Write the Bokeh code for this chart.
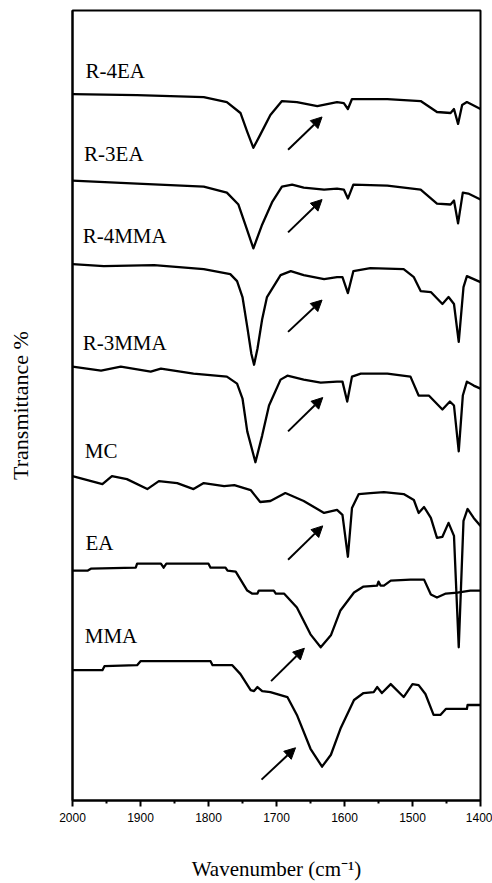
from bokeh.plotting import figure
from bokeh.models import Range1d, FixedTicker, Arrow, NormalHead, ColumnDataSource
from bokeh.core.properties import value
from bokeh.embed import file_html
from bokeh.resources import INLINE

# ---- data (wavenumber cm^-1, stacked transmittance in arbitrary units) ----
r4ea_wn = [2000, 1905, 1807, 1773, 1753, 1743, 1734, 1724, 1709, 1692, 1670, 1640, 1611, 1601, 1595, 1589, 1537, 1488, 1464, 1444, 1439, 1433, 1427, 1420, 1400]
r4ea_t = [710, 709, 707, 702, 691, 672, 656, 669, 689, 703, 702, 698, 702, 701, 695, 705, 705, 703, 692, 691, 695, 680, 699, 702, 695]

r3ea_wn = [2000, 1905, 1807, 1773, 1756, 1746, 1734, 1721, 1706, 1692, 1677, 1660, 1630, 1611, 1601, 1595, 1587, 1537, 1488, 1464, 1444, 1439, 1433, 1426, 1418, 1400]
r3ea_t = [623, 620, 617, 611, 599, 579, 555, 579, 602, 617, 619, 616, 614, 615, 614, 605, 619, 618, 614, 600, 599, 603, 580, 611, 610, 604]

r4mma_wn = [2000, 1954, 1880, 1807, 1768, 1758, 1750, 1743, 1737, 1733, 1728, 1721, 1714, 1694, 1679, 1660, 1630, 1611, 1603, 1595, 1587, 1562, 1513, 1498, 1488, 1473, 1456, 1447, 1439, 1432, 1425, 1420, 1410, 1400]
r4mma_t = [539, 537, 538, 534, 529, 522, 506, 476, 449, 438, 454, 484, 506, 528, 532, 528, 524, 526, 526, 510, 532, 535, 534, 526, 512, 511, 499, 506, 499, 461, 516, 527, 524, 521]

r3mma_wn = [2000, 1958, 1929, 1885, 1870, 1822, 1773, 1758, 1750, 1743, 1731, 1721, 1711, 1694, 1684, 1660, 1635, 1611, 1603, 1596, 1589, 1576, 1537, 1503, 1491, 1476, 1456, 1445, 1439, 1432, 1426, 1420, 1410, 1400]
r3mma_t = [436, 432, 436, 431, 434, 429, 426, 419, 404, 371, 340, 367, 397, 423, 427, 423, 420, 421, 421, 401, 426, 429, 429, 426, 407, 407, 393, 401, 397, 351, 407, 421, 417, 414]

mc_wn = [2000, 1978, 1956, 1942, 1920, 1890, 1873, 1846, 1822, 1807, 1777, 1762, 1738, 1724, 1709, 1687, 1660, 1630, 1611, 1603, 1595, 1589, 1579, 1562, 1542, 1513, 1498, 1491, 1483, 1473, 1464, 1456, 1447, 1439, 1432, 1425, 1419, 1410, 1400]
mc_t = [326, 322, 318, 326, 323, 313, 321, 319, 313, 319, 316, 317, 312, 300, 301, 309, 301, 289, 292, 287, 245, 294, 308, 309, 310, 308, 302, 289, 295, 284, 264, 265, 279, 266, 154, 281, 293, 284, 276]

ea_wn = [2000, 1978, 1973, 1907, 1905, 1870, 1866, 1862, 1800, 1797, 1775, 1772, 1760, 1743, 1736, 1728, 1726, 1704, 1701, 1689, 1670, 1650, 1635, 1620, 1606, 1586, 1572, 1552, 1550, 1547, 1542, 1532, 1503, 1483, 1473, 1464, 1451, 1434, 1415, 1400]
ea_t = [231, 231, 233, 234, 238, 238, 234, 238, 238, 234, 234, 231, 230, 211, 208, 208, 211, 211, 208, 208, 194, 167, 154, 166, 191, 209, 215, 216, 220, 216, 216, 221, 222, 222, 207, 204, 208, 209, 211, 211]

mma_wn = [2000, 1956, 1953, 1905, 1900, 1797, 1794, 1765, 1753, 1738, 1733, 1728, 1721, 1709, 1694, 1684, 1670, 1650, 1633, 1620, 1606, 1586, 1572, 1557, 1552, 1545, 1532, 1513, 1500, 1491, 1481, 1469, 1459, 1451, 1420, 1419, 1400]
mma_t = [131, 131, 135, 136, 140, 140, 136, 136, 127, 111, 110, 114, 110, 109, 106, 104, 86, 52, 34, 46, 72, 101, 108, 109, 114, 108, 117, 104, 117, 116, 107, 86, 86, 92, 92, 96, 96]

names = ["R-4EA", "R-3EA", "R-4MMA", "R-3MMA", "MC", "EA", "MMA"]
label_wn = [1981, 1983, 1985, 1985, 1982, 1981, 1982]
label_t = [733, 650, 567, 460, 351, 259, 165]

arrow_wn0 = [1683, 1683, 1683, 1683, 1683, 1708, 1722]
arrow_wn1 = [1633, 1633, 1633, 1632, 1632, 1659, 1672]
arrow_t0 = [654, 571, 471, 371, 242, 120, 21]
arrow_t1 = [687, 604, 503, 405, 276, 153, 53]

x_ticks = [2000, 1900, 1800, 1700, 1600, 1500, 1400]
x_minor = [1950, 1850, 1750, 1650, 1550, 1450]

spectra = [(r4ea_wn, r4ea_t), (r3ea_wn, r3ea_t), (r4mma_wn, r4mma_t), (r3mma_wn, r3mma_t),
           (mc_wn, mc_t), (ea_wn, ea_t), (mma_wn, mma_t)]

p = figure(width=492, height=883, output_backend="svg", toolbar_location=None,
           x_range=Range1d(2000, 1400), y_range=Range1d(0, 794))
p.min_border_left = 72
p.min_border_right = 12
p.min_border_top = 10
p.min_border_bottom = 79
p.background_fill_color = "white"
p.border_fill_color = "white"
p.grid.visible = False
p.outline_line_color = "black"
p.outline_line_width = 2

for wn, t in spectra:
    p.line(wn, t, line_color="black", line_width=2.3, line_join="round")

src = ColumnDataSource(dict(x=label_wn, y=label_t, text=names))
p.text(x="x", y="y", text="text", source=src, text_font=value("Liberation Serif"),
       text_font_size="21px", text_baseline="middle", text_align="left", text_color="black")

for a, b, c, d in zip(arrow_wn0, arrow_t0, arrow_wn1, arrow_t1):
    p.add_layout(Arrow(x_start=a, y_start=b, x_end=c, y_end=d, line_width=2, line_color="black",
                       end=NormalHead(size=11, fill_color="black", line_color="black", line_width=1)))

xa = p.xaxis[0]
xa.ticker = FixedTicker(ticks=x_ticks, minor_ticks=x_minor)
xa.major_tick_in = 0
xa.major_tick_out = 6
xa.minor_tick_in = 0
xa.minor_tick_out = 3
xa.major_tick_line_width = 2
xa.minor_tick_line_width = 2
xa.major_tick_line_color = "black"
xa.minor_tick_line_color = "black"
xa.axis_line_width = 2
xa.axis_line_color = "black"
xa.major_label_text_font = "Liberation Sans"
xa.major_label_text_font_size = "12px"
xa.major_label_text_color = "black"
xa.major_label_standoff = 6
xa.axis_label = "Wavenumber (cm⁻¹)"
xa.axis_label_text_font = "Liberation Serif"
xa.axis_label_text_font_size = "21px"
xa.axis_label_text_font_style = "normal"
xa.axis_label_text_color = "black"
xa.axis_label_standoff = 32

ya = p.yaxis[0]
ya.ticker = FixedTicker(ticks=[])
ya.major_tick_line_color = None
ya.minor_tick_line_color = None
ya.major_label_text_color = None
ya.axis_line_width = 2
ya.axis_line_color = "black"
ya.axis_label = "Transmittance %"
ya.axis_label_text_font = "Liberation Serif"
ya.axis_label_text_font_size = "22px"
ya.axis_label_text_font_style = "normal"
ya.axis_label_text_color = "black"
ya.axis_label_standoff = 40

open("out.html", "w").write(file_html(p, INLINE))
